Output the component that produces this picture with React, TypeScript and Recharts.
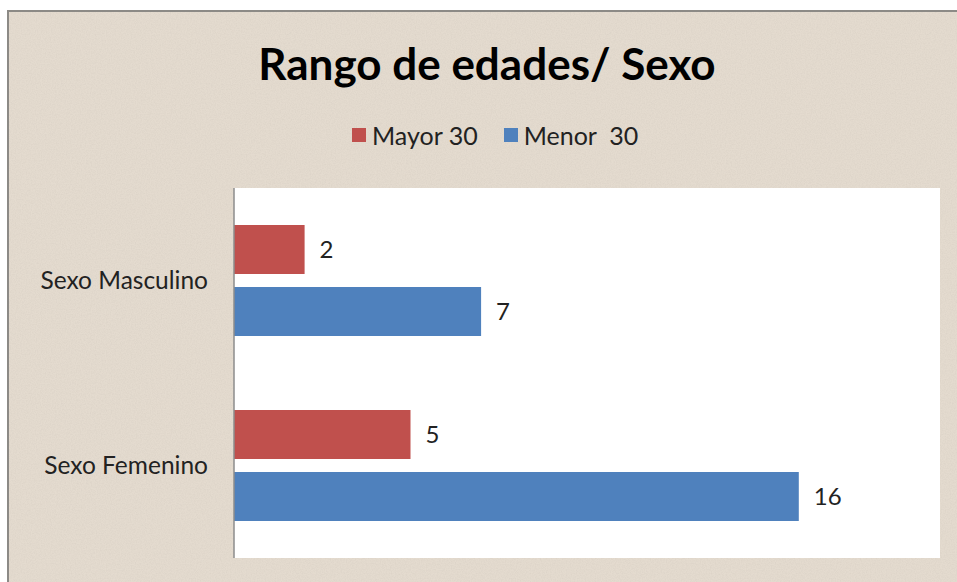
import React from 'react'
import { BarChart, Bar, XAxis, YAxis, CartesianGrid, LabelList } from 'recharts'

const categories = ['Sexo Masculino', 'Sexo Femenino']
const mayor30 = [2, 5]
const menor30 = [7, 16]

const SERIES = [
  { key: 'mayor', name: 'Mayor 30', color: '#c0504d', values: mayor30 },
  { key: 'menor', name: 'Menor  30', color: '#4f81bd', values: menor30 },
]

const data = categories.map((name, i) => ({
  name,
  mayor: mayor30[i],
  menor: menor30[i],
}))

const FONT = 'Lato, "Open Sans", sans-serif'

const App: React.FC = () => {
  return (
    <div style={{ position: 'relative', width: 957, height: 582, background: '#fff', overflow: 'hidden', fontFamily: FONT }}>
      <style>{`body{margin:0}`}</style>
      {/* parchment frame */}
      <div
        style={{
          position: 'absolute',
          left: 7,
          top: 10,
          right: 0,
          bottom: 0,
          background: '#e4dbcf',
          borderLeft: '2px solid #8c8a86',
          borderTop: '2px solid #8c8a86',
        }}
      >
        <svg width="100%" height="100%" style={{ position: 'absolute', inset: 0 }}>
          <filter id="grain">
            <feTurbulence type="fractalNoise" baseFrequency="0.8" numOctaves="2" seed="4" />
            <feColorMatrix type="matrix" values="0 0 0 0 0.55  0 0 0 0 0.5  0 0 0 0 0.44  0 0 0 0.9 -0.3" />
          </filter>
          <rect width="100%" height="100%" filter="url(#grain)" opacity="0.45" />
        </svg>
      </div>

      <div
        style={{
          position: 'absolute',
          top: 34,
          left: 0,
          width: 974,
          textAlign: 'center',
          fontSize: 44,
          fontWeight: 700,
          color: '#000',
          lineHeight: '58px',
        }}
      >
        Rango de edades/ Sexo
      </div>

      <div
        style={{
          position: 'absolute',
          top: 120,
          left: 352,
          display: 'flex',
          alignItems: 'center',
          fontSize: 25,
          color: '#222',
          lineHeight: '30px',
        }}
      >
        {SERIES.map((s, i) => (
          <div key={s.key} style={{ display: 'flex', alignItems: 'center', marginRight: i === 0 ? 26 : 0 }}>
            <span style={{ width: 14, height: 14, background: s.color, display: 'inline-block', marginRight: 6 }} />
            <span style={{ whiteSpace: 'pre' }}>{s.name}</span>
          </div>
        ))}
      </div>

      <div style={{ position: 'absolute', left: 0, top: 0 }}>
        <BarChart
          width={957}
          height={582}
          data={data}
          layout="vertical"
          margin={{ top: 188, right: 17, bottom: 24, left: 0 }}
          barSize={49}
          barGap={13}
        >
          <CartesianGrid fill="#ffffff" stroke="none" horizontal={false} vertical={false} />
          <XAxis type="number" domain={[0, 20]} hide />
          <YAxis
            type="category"
            dataKey="name"
            width={234}
            tickLine={false}
            tickMargin={20}
            axisLine={{ stroke: '#8c8c8c', strokeWidth: 1.5 }}
            tick={{ fill: '#222', fontSize: 24.5, fontFamily: FONT }}
          />
          {SERIES.map(s => (
            <Bar key={s.key} dataKey={s.key} name={s.name} fill={s.color} isAnimationActive={false}>
              <LabelList dataKey={s.key} position="right" offset={15} fill="#222" fontSize={24} fontFamily={FONT} />
            </Bar>
          ))}
        </BarChart>
      </div>
    </div>
  )
}

export default App
